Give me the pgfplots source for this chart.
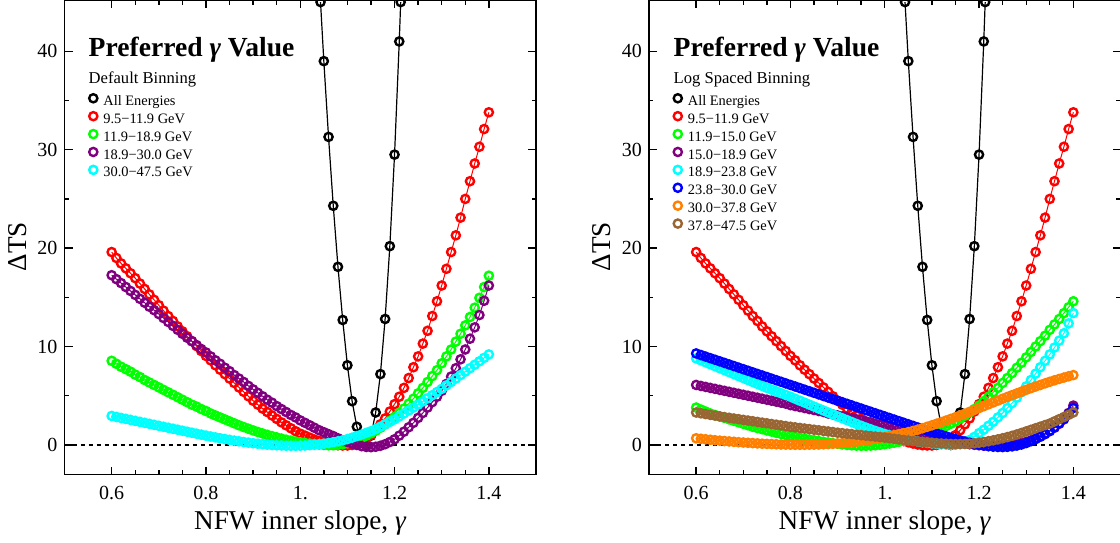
\documentclass[border=0pt]{standalone}
\usepackage{fontspec}
\setmainfont{Liberation Serif}
\usepackage{pgfplots}
\pgfplotsset{compat=1.18}
\usepackage{pgfplotstable}

\definecolor{mpurple}{rgb}{0.5,0,0.5}
\definecolor{morange}{rgb}{1,0.5,0}
\definecolor{mbrown}{rgb}{0.6,0.4,0.2}
\definecolor{mgreen}{rgb}{0,1,0}
\definecolor{mcyan}{rgb}{0,1,1}

% x r gL pL cL gR pR cR bR oR brR
\pgfplotstableread{
x r gL pL cL gR pR cR bR oR brR
0.60 19.6 8.55 17.25 2.95 3.8 6.1 8.8 9.3 0.68 3.3
0.61 19.0 8.25 16.85 2.85 3.6 6.0 8.6 9.14 0.63 3.22
0.62 18.45 7.95 16.45 2.75 3.4 5.9 8.4 8.98 0.58 3.14
0.63 17.95 7.7 16.05 2.65 3.2 5.8 8.2 8.82 0.53 3.06
0.64 17.45 7.45 15.65 2.55 3.05 5.7 8.0 8.66 0.48 2.98
0.65 16.95 7.15 15.25 2.45 2.9 5.6 7.8 8.5 0.44 2.9
0.66 16.4 6.9 14.85 2.35 2.75 5.5 7.6 8.34 0.4 2.83
0.67 15.85 6.6 14.45 2.25 2.6 5.4 7.4 8.18 0.36 2.76
0.68 15.3 6.35 14.05 2.15 2.45 5.3 7.2 8.02 0.32 2.69
0.69 14.75 6.1 13.7 2.05 2.3 5.2 7.0 7.86 0.28 2.62
0.70 14.2 5.85 13.3 1.95 2.15 5.1 6.8 7.7 0.25 2.55
0.71 13.65 5.6 12.9 1.85 2.0 5.0 6.6 7.54 0.22 2.48
0.72 13.1 5.35 12.5 1.75 1.85 4.9 6.4 7.38 0.19 2.41
0.73 12.6 5.1 12.1 1.65 1.72 4.8 6.2 7.22 0.16 2.34
0.74 12.05 4.85 11.7 1.55 1.6 4.7 6.0 7.06 0.13 2.27
0.75 11.55 4.6 11.3 1.45 1.48 4.6 5.8 6.9 0.11 2.2
0.76 11.05 4.35 10.9 1.35 1.36 4.5 5.62 6.74 0.09 2.13
0.77 10.55 4.1 10.55 1.25 1.24 4.4 5.44 6.58 0.07 2.06
0.78 10.05 3.9 10.15 1.15 1.13 4.3 5.26 6.42 0.05 1.99
0.79 9.55 3.65 9.75 1.05 1.02 4.2 5.08 6.26 0.04 1.92
0.80 9.05 3.45 9.4 0.95 0.92 4.05 4.9 6.1 0.03 1.85
0.81 8.6 3.2 9.0 0.86 0.82 3.95 4.7 5.94 0.02 1.79
0.82 8.1 3.0 8.6 0.77 0.73 3.85 4.5 5.78 0.02 1.73
0.83 7.65 2.8 8.25 0.68 0.64 3.75 4.3 5.62 0.02 1.67
0.84 7.2 2.6 7.85 0.6 0.55 3.65 4.1 5.46 0.03 1.61
0.85 6.75 2.4 7.5 0.52 0.47 3.55 3.9 5.3 0.04 1.55
0.86 6.3 2.2 7.1 0.44 0.39 3.45 3.7 5.14 0.05 1.49
0.87 5.85 2.0 6.75 0.37 0.32 3.35 3.5 4.98 0.07 1.43
0.88 5.4 1.82 6.4 0.3 0.25 3.2 3.3 4.82 0.09 1.37
0.89 4.95 1.65 6.0 0.24 0.18 3.1 3.1 4.66 0.12 1.31
0.90 4.5 1.48 5.65 0.18 0.12 3.0 2.9 4.5 0.15 1.25
0.91 4.1 1.32 5.3 0.13 0.06 2.9 2.71 4.34 0.19 1.2
0.92 3.7 1.17 4.95 0.08 0.01 2.8 2.52 4.18 0.23 1.15
0.93 3.35 1.03 4.6 0.04 -0.03 2.7 2.33 4.02 0.28 1.1
0.94 3.0 0.9 4.3 0.0 -0.06 2.6 2.14 3.86 0.34 1.05
0.95 2.65 0.77 3.95 -0.03 -0.08 2.5 1.95 3.7 0.4 1.0
0.96 2.3 0.65 3.65 -0.05 -0.08 2.4 1.77 3.54 0.47 0.95
0.97 2.0 0.54 3.35 -0.07 -0.06 2.3 1.6 3.38 0.54 0.9
0.98 1.7 0.44 3.05 -0.08 -0.03 2.15 1.43 3.22 0.62 0.85
0.99 1.4 0.35 2.8 -0.08 0.02 2.05 1.27 3.06 0.71 0.8
1.00 1.15 0.27 2.5 -0.07 0.08 1.95 1.12 2.9 0.8 0.75
1.01 0.95 0.2 2.25 -0.05 0.15 1.85 0.98 2.74 0.9 0.69
1.02 0.75 0.14 2.0 -0.02 0.23 1.75 0.85 2.58 1.0 0.63
1.03 0.55 0.09 1.75 0.02 0.32 1.65 0.73 2.42 1.1 0.57
1.04 0.4 0.04 1.5 0.07 0.42 1.55 0.62 2.26 1.2 0.51
1.05 0.27 0.0 1.3 0.13 0.53 1.45 0.52 2.1 1.31 0.45
1.06 0.15 -0.03 1.1 0.2 0.65 1.35 0.43 1.94 1.43 0.4
1.07 0.05 -0.03 0.9 0.28 0.8 1.22 0.35 1.78 1.56 0.35
1.08 -0.02 0.0 0.68 0.37 0.95 1.1 0.28 1.62 1.7 0.3
1.09 -0.05 0.07 0.48 0.47 1.12 0.98 0.22 1.46 1.85 0.26
1.10 -0.05 0.18 0.3 0.6 1.3 0.86 0.16 1.3 2.0 0.22
1.11 0.0 0.32 0.14 0.74 1.5 0.74 0.11 1.16 2.16 0.18
1.12 0.1 0.5 0.0 0.9 1.7 0.62 0.07 1.02 2.32 0.15
1.13 0.3 0.7 -0.12 1.06 1.92 0.51 0.04 0.88 2.48 0.12
1.14 0.6 0.93 -0.2 1.23 2.15 0.41 0.02 0.74 2.65 0.1
1.15 1.0 1.18 -0.22 1.4 2.4 0.32 0.03 0.6 2.82 0.09
1.16 1.5 1.45 -0.18 1.62 2.68 0.23 0.1 0.47 3.0 0.09
1.17 2.1 1.75 -0.08 1.85 2.98 0.15 0.25 0.35 3.18 0.1
1.18 2.7 2.1 0.08 2.1 3.3 0.08 0.5 0.23 3.37 0.13
1.19 3.4 2.45 0.3 2.35 3.65 0.02 0.82 0.12 3.56 0.17
1.20 4.15 2.85 0.58 2.6 4.0 -0.03 1.2 0.03 3.75 0.23
1.21 4.9 3.25 0.95 2.9 4.45 -0.07 1.55 -0.05 3.94 0.3
1.22 5.8 3.7 1.35 3.2 4.9 -0.1 1.95 -0.12 4.13 0.38
1.23 6.8 4.2 1.8 3.5 5.35 -0.11 2.35 -0.17 4.32 0.47
1.24 7.9 4.7 2.25 3.8 5.8 -0.11 2.8 -0.2 4.51 0.57
1.25 9.0 5.25 2.75 4.1 6.3 -0.09 3.25 -0.21 4.7 0.68
1.26 10.3 5.8 3.25 4.42 6.8 -0.05 3.75 -0.19 4.88 0.8
1.27 11.6 6.4 3.8 4.74 7.3 0.01 4.25 -0.14 5.06 0.93
1.28 13.1 7.0 4.35 5.06 7.85 0.09 4.8 -0.06 5.24 1.07
1.29 14.6 7.6 4.9 5.38 8.35 0.19 5.35 0.05 5.42 1.22
1.30 16.2 8.3 5.5 5.7 8.9 0.31 5.95 0.2 5.6 1.38
1.31 17.9 9.0 6.2 6.05 9.45 0.46 6.6 0.38 5.77 1.54
1.32 19.6 9.7 6.95 6.4 10.0 0.64 7.25 0.6 5.94 1.7
1.33 21.3 10.5 7.8 6.75 10.55 0.85 7.9 0.85 6.1 1.86
1.34 23.1 11.3 8.7 7.1 11.1 1.1 8.55 1.13 6.26 2.02
1.35 25.0 12.15 9.7 7.45 11.7 1.4 9.2 1.45 6.42 2.18
1.36 26.8 13.0 10.8 7.8 12.25 1.75 9.9 1.8 6.57 2.4
1.37 28.6 13.95 11.95 8.15 12.8 2.15 10.6 2.2 6.71 2.62
1.38 30.3 14.95 13.2 8.5 13.4 2.6 11.35 2.65 6.85 2.84
1.39 32.1 16.05 14.65 8.85 14.0 3.25 12.35 3.15 6.98 3.06
1.40 33.8 17.2 16.2 9.2 14.6 4.0 13.4 3.75 7.1 3.3
}\datatab

\pgfplotstableread{
x y
1.043 45.0
1.05 39.0
1.06 31.3
1.07 24.3
1.08 18.1
1.09 12.7
1.10 8.1
1.11 4.45
1.12 1.85
1.13 0.4
1.14 0.0
1.15 0.95
1.16 3.3
1.17 7.2
1.18 12.8
1.19 20.2
1.20 29.5
1.21 41.0
1.213 45.0
}\blacktab

\tikzset{
  ttl/.style={anchor=base west, inner sep=0pt, font=\bfseries\fontsize{13.8}{15}\selectfont},
  sttl/.style={anchor=base west, inner sep=0pt, font=\fontsize{8.3}{10}\selectfont},
}

\pgfplotsset{
  ser/.style={color=#1, mark=o, line width=0.5pt, mark size=2.05pt,
    mark options={line width=1.2pt, solid}},
  zeroline/.style={black, line width=0.6pt, dash pattern=on 2pt off 2pt},
  panel/.style={
    scale only axis, width=235.75pt, height=237.2pt,
    xmin=0.5, xmax=1.5, ymin=-3, ymax=45.2,
    xtick={0.6,0.8,1.0,1.2,1.4}, xticklabels={0.6,0.8,1.,1.2,1.4},
    minor x tick num=3,
    ytick={0,10,20,30,40}, minor y tick num=1,
    tick align=inside,
    major tick length=4pt, minor tick length=2.2pt,
    every tick/.style={black, line width=0.7pt},
    axis line style={line width=0.85pt},
    tick label style={font=\fontsize{10}{12}\selectfont},
    xticklabel style={yshift=-2.4pt},
    /pgf/number format/assume math mode=true,
    xlabel={NFW inner slope, \textit{γ}},
    ylabel={ΔTS},
    label style={font=\fontsize{13.6}{15}\selectfont},
    xlabel style={at={(axis description cs:0.5,-0.115)}, anchor=base},
    ylabel style={at={(axis description cs:-0.1,0.48)}, anchor=center},
    clip marker paths=true,
    legend cell align=left,
    legend style={at={(axis description cs:0.0524,0.8017)}, anchor=north west,
      draw=none, fill=none, inner sep=0pt, outer sep=0pt,
      row sep=1.85pt, column sep=3pt,
      font=\fontsize{7.2}{8.6}\selectfont,
      nodes={inner sep=0pt, text height=5pt, text depth=1.5pt}},
    legend image code/.code={\draw[##1] plot coordinates {(0pt,1.8pt)};},
  },
}

\begin{document}
\begin{tikzpicture}
\begin{axis}[panel, at={(32.25pt,33.75pt)}, anchor=south west]
\addplot[forget plot, zeroline] coordinates {(0.5,0) (1.5,0)};
\addplot[ser=black, line width=0.6pt] table[x=x,y=y]{\blacktab};
\addlegendentry{All Energies}
\addplot[ser=red] table[x=x,y=r]{\datatab};
\addlegendentry{9.5−11.9 GeV}
\addplot[ser=mgreen] table[x=x,y=gL]{\datatab};
\addlegendentry{11.9−18.9 GeV}
\addplot[ser=mpurple] table[x=x,y=pL]{\datatab};
\addlegendentry{18.9−30.0 GeV}
\addplot[ser=mcyan] table[x=x,y=cL]{\datatab};
\addlegendentry{30.0−47.5 GeV}
\node[ttl] at (axis description cs:0.0505,0.8807) {Preferred \textit{γ} Value};
\node[sttl] at (axis description cs:0.0505,0.8248) {Default Binning};
\end{axis}

\begin{axis}[panel, at={(324.5pt,33.75pt)}, anchor=south west]
\addplot[forget plot, zeroline] coordinates {(0.5,0) (1.5,0)};
\addplot[ser=black, line width=0.6pt] table[x=x,y=y]{\blacktab};
\addlegendentry{All Energies}
\addplot[ser=red] table[x=x,y=r]{\datatab};
\addlegendentry{9.5−11.9 GeV}
\addplot[ser=mgreen] table[x=x,y=gR]{\datatab};
\addlegendentry{11.9−15.0 GeV}
\addplot[ser=mpurple] table[x=x,y=pR]{\datatab};
\addlegendentry{15.0−18.9 GeV}
\addplot[ser=mcyan] table[x=x,y=cR]{\datatab};
\addlegendentry{18.9−23.8 GeV}
\addplot[ser=blue] table[x=x,y=bR]{\datatab};
\addlegendentry{23.8−30.0 GeV}
\addplot[ser=morange] table[x=x,y=oR]{\datatab};
\addlegendentry{30.0−37.8 GeV}
\addplot[ser=mbrown] table[x=x,y=brR]{\datatab};
\addlegendentry{37.8−47.5 GeV}
\node[ttl] at (axis description cs:0.0515,0.8807) {Preferred \textit{γ} Value};
\node[sttl] at (axis description cs:0.0515,0.8248) {Log Spaced Binning};
\end{axis}
\pgfresetboundingbox
\path[use as bounding box] (0,0) rectangle (560pt,271pt);
\end{tikzpicture}
\end{document}
